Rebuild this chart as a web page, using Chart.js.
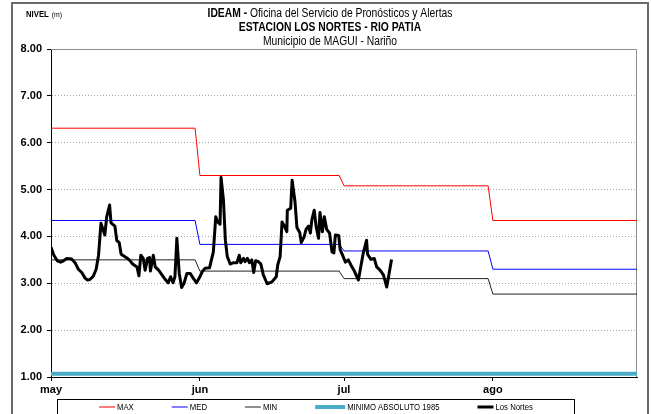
<!DOCTYPE html>
<html>
<head>
<meta charset="utf-8">
<title>Nivel - Estación Los Nortes</title>
<script src="https://cdn.jsdelivr.net/npm/chart.js@4.4.1/dist/chart.umd.min.js"></script>
<style>
  html, body { margin: 0; padding: 0; background: #fff; }
  #marco { position: relative; width: 651px; height: 414px; overflow: hidden; }
  #borde { position: absolute; left: 11px; top: 2px; width: 634px; height: 440px; border: 2px solid #6a6a6a; }
  canvas { position: absolute; left: 0; top: 0; }
</style>
</head>
<body>
<div id="marco">
  <div id="borde"></div>
  <canvas id="grafico" width="651" height="414"></canvas>
</div>
<script>
// meses del eje (día 0 = 1 de mayo)
const meses = ['may', 'jun', 'jul', 'ago'];
const inicioMes = [0, 31, 61, 92];
const finMes = [30, 60, 91, 122];

// valores históricos mensuales (m)
const nivelMax = [6.31, 5.30, 5.08, 4.34];
const nivelMed = [4.34, 3.83, 3.69, 3.30];
const nivelMin = [3.50, 3.26, 3.10, 2.77];
const minimoAbsoluto = 1.07;

// lecturas de la estación Los Nortes (día desde el 1 de mayo, nivel en m)
const nortesDia = [0, 0.6, 1.3, 2.0, 2.6, 3.3, 4.3, 5.0, 5.7, 6.4, 7.1, 7.6, 8.1, 8.8, 9.4, 9.9,
  10.4, 11.2, 11.6, 12.2, 12.5, 13.3, 13.7, 14.2, 14.6, 15.8, 16.4, 17.0, 17.9, 18.3, 18.7,
  19.2, 19.6, 20.1, 20.5, 20.7, 21.3, 21.7, 22.4, 23.1, 23.8, 24.4, 24.9, 25.4, 25.8, 26.2,
  26.7, 27.2, 27.7, 28.3, 29.0, 29.6, 30.3, 31.0, 31.5, 32.1, 33.0, 33.8, 34.3, 34.7, 35.2,
  35.4, 35.9, 36.3, 36.7, 37.3, 38.0, 38.7, 39.2, 39.5, 40.1, 40.4, 40.9, 41.3, 41.8, 42.2,
  42.6, 43.2, 43.7, 44.2, 45.0, 46.0, 46.9, 47.2, 47.7, 48.1, 48.5, 49.1, 49.2, 49.9, 50.2,
  50.8, 51.2, 51.8, 52.1, 52.7, 53.1, 53.6, 54.0, 54.3, 54.8, 55.2, 55.7, 56.0, 56.5, 56.9,
  57.4, 58.0, 58.5, 58.9, 59.2, 59.9, 60.2, 60.7, 61.3, 61.9, 62.5, 63.2, 64.0, 65.0, 65.7,
  65.9, 66.6, 67.3, 67.8, 68.5, 69.2, 69.9, 70.9];
const nortesNivel = [3.77, 3.60, 3.48, 3.45, 3.48, 3.53, 3.52, 3.44, 3.30, 3.23, 3.11, 3.07, 3.08, 3.15, 3.30, 3.60,
  4.28, 4.03, 4.42, 4.67, 4.29, 4.22, 3.91, 3.87, 3.62, 3.54, 3.49, 3.41, 3.35, 3.16, 3.60,
  3.53, 3.28, 3.53, 3.55, 3.26, 3.60, 3.35, 3.28, 3.18, 3.08, 3.01, 3.14, 3.01, 3.14, 3.96,
  3.21, 2.91, 3.00, 3.21, 3.21, 3.11, 3.01, 3.14, 3.25, 3.32, 3.33, 3.67, 4.42, 4.31, 4.26,
  5.26, 4.78, 3.92, 3.57, 3.41, 3.44, 3.44, 3.60, 3.44, 3.53, 3.46, 3.53, 3.44, 3.50, 3.23,
  3.48, 3.46, 3.41, 3.18, 2.99, 3.03, 3.14, 3.39, 3.57, 4.31, 4.24, 4.10, 4.56, 4.60, 5.20,
  4.74, 4.19, 4.08, 3.87, 3.99, 4.15, 4.22, 4.07, 4.35, 4.56, 4.21, 3.96, 4.51, 4.10, 4.42,
  4.15, 4.07, 3.67, 3.65, 4.03, 4.02, 3.72, 3.60, 3.45, 3.50, 3.38, 3.25, 3.07, 3.64, 3.92,
  3.62, 3.51, 3.53, 3.35, 3.28, 3.18, 2.92, 3.51];

const FUENTE = "'Liberation Sans', Arial, sans-serif";
const ANGOSTO = 0.86; // factor para simular letra condensada

// convierte un valor por mes en una línea escalonada
function escalonada(valores) {
    const puntos = [];
    valores.forEach((v, i) => {
        puntos.push({ x: inicioMes[i], y: v });
        puntos.push({ x: finMes[i], y: v });
    });
    return puntos;
}

// texto condensado; devuelve el ancho ocupado
function textoAngosto(ctx, txt, x, y) {
    const w = ctx.measureText(txt).width * ANGOSTO;
    ctx.fillText(txt, x, y, w);
    return w;
}

// títulos de la parte superior
const encabezado = {
    id: 'encabezado',
    afterDraw(chart) {
        const ctx = chart.ctx;
        const cx = 330;
        ctx.save();
        ctx.fillStyle = '#000';
        ctx.textBaseline = 'alphabetic';

        // NIVEL (m)
        ctx.font = 'bold 9px ' + FUENTE;
        let w = textoAngosto(ctx, 'NIVEL', 26, 17);
        ctx.font = '8px ' + FUENTE;
        textoAngosto(ctx, '(m)', 26 + w + 3, 17);

        // línea 1: parte en negrita + resto normal
        const p1 = 'IDEAM - ';
        const p2 = 'Oficina del Servicio de Pronósticos y Alertas';
        ctx.font = 'bold 12px ' + FUENTE;
        const w1 = ctx.measureText(p1).width * ANGOSTO;
        ctx.font = '12px ' + FUENTE;
        const w2 = ctx.measureText(p2).width * ANGOSTO;
        const x = cx - (w1 + w2) / 2;
        ctx.font = 'bold 12px ' + FUENTE;
        textoAngosto(ctx, p1, x, 17);
        ctx.font = '12px ' + FUENTE;
        textoAngosto(ctx, p2, x + w1, 17);

        ctx.font = 'bold 12px ' + FUENTE;
        const t2 = 'ESTACION LOS NORTES - RIO PATIA';
        textoAngosto(ctx, t2, cx - ctx.measureText(t2).width * ANGOSTO / 2, 31);
        ctx.font = '12px ' + FUENTE;
        const t3 = 'Municipio de MAGUI - Nariño';
        textoAngosto(ctx, t3, cx - ctx.measureText(t3).width * ANGOSTO / 2, 45);
        ctx.restore();
    }
};

// borde gris superior y derecho del área de trazado
const marcoArea = {
    id: 'marcoArea',
    beforeDatasetsDraw(chart) {
        const { ctx, chartArea: a } = chart;
        ctx.save();
        ctx.strokeStyle = '#8c8c8c';
        ctx.lineWidth = 1;
        ctx.beginPath();
        ctx.moveTo(a.left, a.top + 0.5);
        ctx.lineTo(a.right - 0.5, a.top + 0.5);
        ctx.lineTo(a.right - 0.5, a.bottom);
        ctx.stroke();
        ctx.restore();
    }
};

// leyenda en caja debajo del eje
const leyendaCaja = {
    id: 'leyendaCaja',
    afterDraw(chart) {
        const ctx = chart.ctx;
        const y = 407;
        ctx.save();
        ctx.strokeStyle = '#000';
        ctx.lineWidth = 1;
        ctx.strokeRect(57.5, 399.5, 517, 30);
        ctx.font = '9px ' + FUENTE;
        ctx.textBaseline = 'middle';
        ctx.fillStyle = '#000';
        let x = 99;
        chart.data.datasets.forEach(ds => {
            const largo = ds.borderWidth >= 4 ? 30 : 16;
            ctx.strokeStyle = ds.borderColor;
            ctx.lineWidth = ds.borderWidth;
            ctx.beginPath();
            ctx.moveTo(x, y);
            ctx.lineTo(x + largo, y);
            ctx.stroke();
            const w = textoAngosto(ctx, ds.label, x + largo + 2, y + 0.5);
            x += largo + 2 + w + 38;
        });
        ctx.restore();
    }
};

new Chart(document.getElementById('grafico'), {
    type: 'line',
    data: {
        datasets: [
            { label: 'MAX', data: escalonada(nivelMax), borderColor: '#ff0000', borderWidth: 1, order: 2 },
            { label: 'MED', data: escalonada(nivelMed), borderColor: '#0000ff', borderWidth: 1, order: 3 },
            { label: 'MIN', data: escalonada(nivelMin), borderColor: '#222222', borderWidth: 1, order: 4 },
            { label: 'MINIMO ABSOLUTO 1985', data: [{ x: 0, y: minimoAbsoluto }, { x: 122, y: minimoAbsoluto }],
              borderColor: '#4bacc6', borderWidth: 4, order: 5 },
            { label: 'Los Nortes', data: nortesDia.map((d, i) => ({ x: d, y: nortesNivel[i] })),
              borderColor: '#000000', borderWidth: 3, borderJoinStyle: 'round', order: 1 }
        ]
    },
    options: {
        responsive: false,
        animation: false,
        devicePixelRatio: 1,
        elements: { point: { radius: 0 }, line: { tension: 0 } },
        layout: { padding: { top: 49, right: 14, left: 0, bottom: 17 } },
        plugins: { legend: { display: false }, tooltip: { enabled: false } },
        scales: {
            x: {
                type: 'linear',
                min: 0,
                max: 122,
                afterBuildTicks: s => { s.ticks = inicioMes.map(v => ({ value: v })); },
                afterFit: s => { s.height = 20; },
                ticks: {
                    autoSkip: false,
                    maxRotation: 0,
                    padding: 2,
                    color: '#000',
                    font: { family: FUENTE, size: 11, weight: 'bold' },
                    callback: (v, i) => meses[i]
                },
                grid: { drawOnChartArea: false, tickLength: 4, tickColor: '#000' },
                border: { color: '#000', width: 1 }
            },
            y: {
                min: 1,
                max: 8,
                afterFit: s => { s.width = 51; },
                ticks: {
                    stepSize: 1,
                    padding: 5,
                    color: '#000',
                    font: { family: FUENTE, size: 11, weight: 'bold' },
                    callback: v => v.toFixed(2)
                },
                grid: { color: '#a6a6a6', tickColor: '#000', tickLength: 4 },
                border: { color: '#000', width: 1, dash: [1, 2] }
            }
        }
    },
    plugins: [encabezado, marcoArea, leyendaCaja]
});
</script>
</body>
</html>
